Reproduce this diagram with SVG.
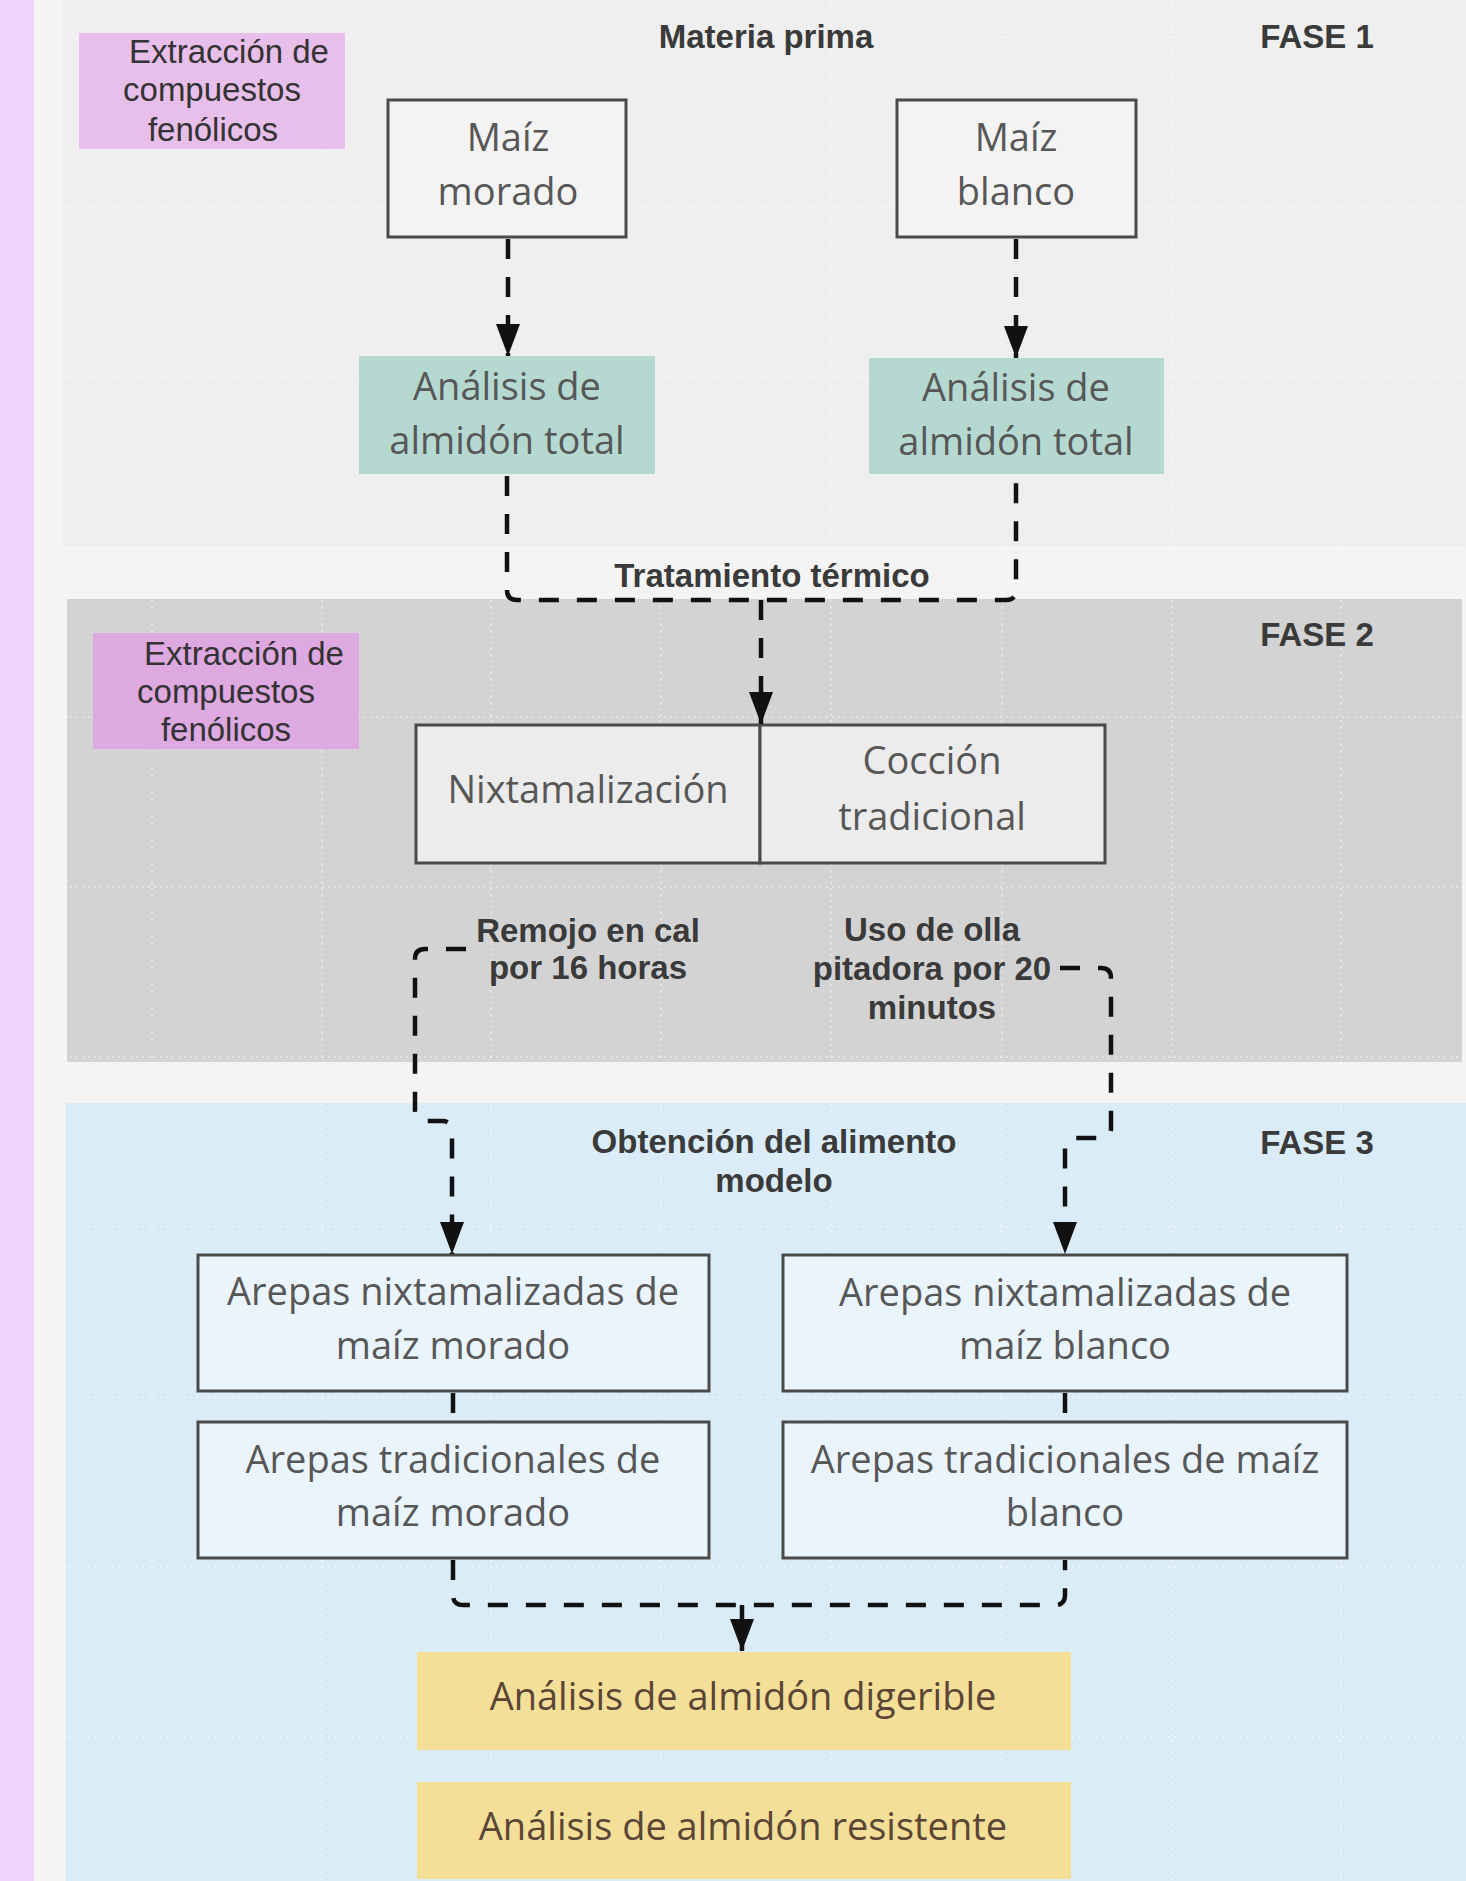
<svg xmlns="http://www.w3.org/2000/svg" width="1466" height="1881" viewBox="0 0 1466 1881">
<defs>
<style>
.lbl{font-family:"Liberation Sans",Arial,sans-serif;font-weight:bold;font-size:33px;fill:#3a3a3a;text-anchor:middle}
.ext{font-family:"Liberation Sans",Arial,sans-serif;font-size:33px;fill:#333;text-anchor:middle}
.bx{font-family:"Open Sans","DejaVu Sans",sans-serif;font-size:38px;fill:#575757;text-anchor:middle}
.yt{font-family:"Open Sans","DejaVu Sans",sans-serif;font-size:38px;fill:#5a4536;text-anchor:middle}
.box{stroke:#4a4a4a;stroke-width:3}
.con{fill:none;stroke:#111;stroke-width:4.5;stroke-dasharray:20 18}
.grid{stroke:#ffffff;stroke-opacity:0.5;stroke-width:1.5;stroke-dasharray:2 4}
</style>
<marker id="arr" viewBox="0 0 32 24" refX="32" refY="12" markerWidth="32" markerHeight="24" markerUnits="userSpaceOnUse" orient="auto">
<path d="M0,0 L32,12 L0,24 z" fill="#111" stroke="none"/>
</marker>
</defs>

<g id="background">
<rect x="0" y="0" width="1466" height="1881" fill="#f4f4f4"/>
<rect x="0" y="0" width="34" height="1881" fill="#efd5fb"/>
<rect x="63" y="0" width="1403" height="547" fill="#efefef"/>
<rect x="67" y="599" width="1395" height="463" fill="#d3d3d3"/>
<rect x="66" y="1103" width="1400" height="778" fill="#daecf8"/>
</g>

<g id="grid">
<line class="grid" x1="34" y1="37" x2="1466" y2="37"/>
<line class="grid" x1="34" y1="207" x2="1466" y2="207"/>
<line class="grid" x1="34" y1="377" x2="1466" y2="377"/>
<line class="grid" x1="34" y1="547" x2="1466" y2="547"/>
<line class="grid" x1="34" y1="717" x2="1466" y2="717"/>
<line class="grid" x1="34" y1="887" x2="1466" y2="887"/>
<line class="grid" x1="34" y1="1057" x2="1466" y2="1057"/>
<line class="grid" x1="34" y1="1227" x2="1466" y2="1227"/>
<line class="grid" x1="34" y1="1397" x2="1466" y2="1397"/>
<line class="grid" x1="34" y1="1567" x2="1466" y2="1567"/>
<line class="grid" x1="34" y1="1737" x2="1466" y2="1737"/>
<line class="grid" x1="152" y1="0" x2="152" y2="1881"/>
<line class="grid" x1="322" y1="0" x2="322" y2="1881"/>
<line class="grid" x1="491" y1="0" x2="491" y2="1881"/>
<line class="grid" x1="661" y1="0" x2="661" y2="1881"/>
<line class="grid" x1="831" y1="0" x2="831" y2="1881"/>
<line class="grid" x1="1002" y1="0" x2="1002" y2="1881"/>
<line class="grid" x1="1172" y1="0" x2="1172" y2="1881"/>
<line class="grid" x1="1341" y1="0" x2="1341" y2="1881"/>
</g>

<g id="phase-labels">
<text class="lbl" x="766" y="48">Materia prima</text>
<text class="lbl" x="1317" y="48">FASE 1</text>
<text class="lbl" x="1317" y="646">FASE 2</text>
<text class="lbl" x="1317" y="1154">FASE 3</text>
</g>

<g id="extraccion-1">
<rect x="79" y="33" width="266" height="116" fill="#e8bfeb"/>
<text class="ext" x="229" y="63">Extracción de</text>
<text class="ext" x="212" y="101">compuestos</text>
<text class="ext" x="213" y="141">fenólicos</text>
</g>

<g id="extraccion-2">
<rect x="93" y="633" width="266" height="116" fill="#dea8e0"/>
<text class="ext" x="244" y="665">Extracción de</text>
<text class="ext" x="226" y="703">compuestos</text>
<text class="ext" x="226" y="741">fenólicos</text>
</g>

<g id="maiz-morado">
<rect class="box" x="388" y="100" width="238" height="137" fill="#f3f3f3"/>
<text class="bx" x="508" y="151">Maíz</text>
<text class="bx" x="508" y="205">morado</text>
</g>

<g id="maiz-blanco">
<rect class="box" x="897" y="100" width="239" height="137" fill="#f3f3f3"/>
<text class="bx" x="1016" y="151">Maíz</text>
<text class="bx" x="1016" y="205">blanco</text>
</g>

<g id="analisis-total-1">
<rect x="359" y="356" width="296" height="118" fill="#b5d9d1"/>
<text class="bx" x="507" y="400">Análisis de</text>
<text class="bx" x="507" y="454">almidón total</text>
</g>

<g id="analisis-total-2">
<rect x="869" y="358" width="295" height="116" fill="#b5d9d1"/>
<text class="bx" x="1016" y="401">Análisis de</text>
<text class="bx" x="1016" y="455">almidón total</text>
</g>

<g id="nixtamalizacion">
<rect class="box" x="416" y="725" width="344" height="138" fill="#ececec"/>
<text class="bx" x="588" y="803">Nixtamalización</text>
</g>

<g id="coccion">
<rect class="box" x="760" y="725" width="345" height="138" fill="#ececec"/>
<text class="bx" x="932" y="774">Cocción</text>
<text class="bx" x="932" y="830">tradicional</text>
</g>

<g id="arepas-nixt-morado">
<rect class="box" x="198" y="1255" width="511" height="136" fill="#e9f4fc"/>
<text class="bx" x="453" y="1305">Arepas nixtamalizadas de</text>
<text class="bx" x="453" y="1359">maíz morado</text>
</g>

<g id="arepas-trad-morado">
<rect class="box" x="198" y="1422" width="511" height="136" fill="#e9f4fc"/>
<text class="bx" x="453" y="1473">Arepas tradicionales de</text>
<text class="bx" x="453" y="1526">maíz morado</text>
</g>

<g id="arepas-nixt-blanco">
<rect class="box" x="783" y="1255" width="564" height="136" fill="#e9f4fc"/>
<text class="bx" x="1065" y="1306">Arepas nixtamalizadas de</text>
<text class="bx" x="1065" y="1359">maíz blanco</text>
</g>

<g id="arepas-trad-blanco">
<rect class="box" x="783" y="1422" width="564" height="136" fill="#e9f4fc"/>
<text class="bx" x="1065" y="1473">Arepas tradicionales de maíz</text>
<text class="bx" x="1065" y="1526">blanco</text>
</g>

<g id="almidon-digerible">
<rect x="417" y="1652" width="654" height="98" fill="#f3df97"/>
<text class="yt" x="743" y="1710">Análisis de almidón digerible</text>
</g>

<g id="almidon-resistente">
<rect x="417" y="1782" width="654" height="97" fill="#f3df97"/>
<text class="yt" x="743" y="1840">Análisis de almidón resistente</text>
</g>

<g id="connectors">
<path class="con" d="M508 239 V356" marker-end="url(#arr)"/>
<path class="con" d="M1016 239 V358" marker-end="url(#arr)"/>
<path class="con" d="M507 476 V590 Q507 600 517 600 H1006 Q1016 600 1016 590 V476"/>
<path class="con" d="M761 600 V724" marker-end="url(#arr)"/>
<path class="con" d="M466 949 H425 Q415 949 415 959 V1111 Q415 1121 425 1121 H442 Q452 1121 452 1131 V1254" marker-end="url(#arr)"/>
<path class="con" d="M1060 968 H1101 Q1111 968 1111 978 V1128 Q1111 1138 1101 1138 H1075 Q1065 1138 1065 1148 V1254" marker-end="url(#arr)"/>
<path class="con" d="M453 1393 V1421"/>
<path class="con" d="M1065 1393 V1421"/>
<path class="con" d="M453 1560 V1595 Q453 1605 463 1605 H1055 Q1065 1605 1065 1595 V1560"/>
<path class="con" d="M742 1605 V1651" marker-end="url(#arr)"/>
</g>

<g id="connector-labels">
<text class="lbl" x="772" y="587">Tratamiento térmico</text>
<text class="lbl" x="588" y="942">Remojo en cal</text>
<text class="lbl" x="588" y="979">por 16 horas</text>
<text class="lbl" x="932" y="941">Uso de olla</text>
<text class="lbl" x="932" y="980">pitadora por 20</text>
<text class="lbl" x="932" y="1019">minutos</text>
<text class="lbl" x="774" y="1153">Obtención del alimento</text>
<text class="lbl" x="774" y="1192">modelo</text>
</g>
</svg>
